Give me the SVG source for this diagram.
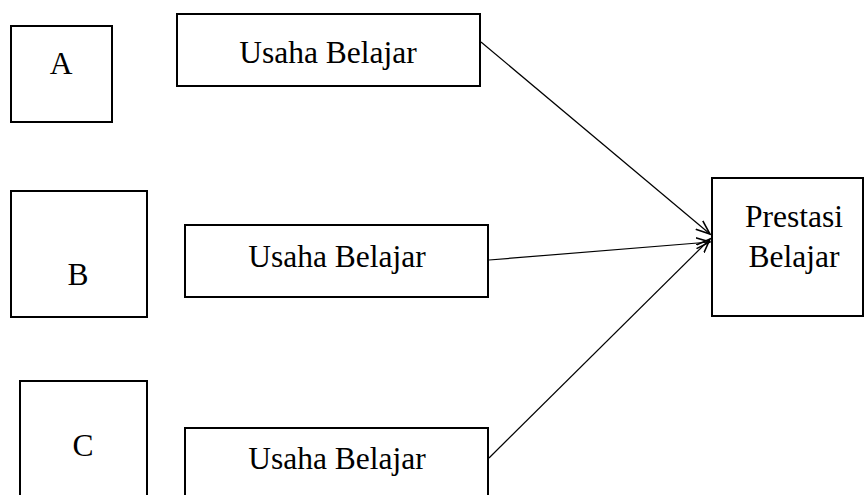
<svg xmlns="http://www.w3.org/2000/svg" width="865" height="495" viewBox="0 0 865 495">
  <style>
    .box { fill: #ffffff; stroke: #000000; stroke-width: 2; }
    .lbl { font-family: "Liberation Serif", "Times New Roman", serif; font-size: 31.5px; fill: #000000; text-anchor: middle; }
    .edge { stroke: #000000; stroke-width: 1.2; fill: none; marker-end: url(#arrow); }
  </style>
  <defs>
    <marker id="arrow" markerUnits="userSpaceOnUse" markerWidth="16" markerHeight="14" refX="14" refY="7" orient="auto">
      <path d="M0,1.5 L14,7 L0,12.5" fill="none" stroke="#000000" stroke-width="1.6"/>
    </marker>
  </defs>

  <rect width="865" height="495" fill="#ffffff"/>

  <g id="node-a">
    <rect class="box" x="11" y="26" width="101" height="96"/>
    <text class="lbl" x="61" y="74">A</text>
  </g>
  <g id="node-b">
    <rect class="box" x="11" y="191" width="136" height="126"/>
    <text class="lbl" x="78" y="285">B</text>
  </g>
  <g id="node-c">
    <rect class="box" x="20" y="381" width="127" height="130"/>
    <text class="lbl" x="83" y="456">C</text>
  </g>

  <g id="usaha-1">
    <rect class="box" x="177" y="14" width="303" height="72"/>
    <text class="lbl" x="328" y="63">Usaha Belajar</text>
  </g>
  <g id="usaha-2">
    <rect class="box" x="185" y="225" width="303" height="72"/>
    <text class="lbl" x="337" y="267">Usaha Belajar</text>
  </g>
  <g id="usaha-3">
    <rect class="box" x="185" y="428" width="303" height="80"/>
    <text class="lbl" x="337" y="469">Usaha Belajar</text>
  </g>

  <g id="prestasi">
    <rect class="box" x="712" y="178" width="151" height="138"/>
    <text class="lbl" x="794" y="227">Prestasi</text>
    <text class="lbl" x="794" y="267">Belajar</text>
  </g>

  <g id="connectors">
    <line class="edge" x1="481" y1="42" x2="710" y2="234"/>
    <line class="edge" x1="489" y1="260" x2="710" y2="242"/>
    <line class="edge" x1="489" y1="458" x2="710" y2="239"/>
  </g>
</svg>
